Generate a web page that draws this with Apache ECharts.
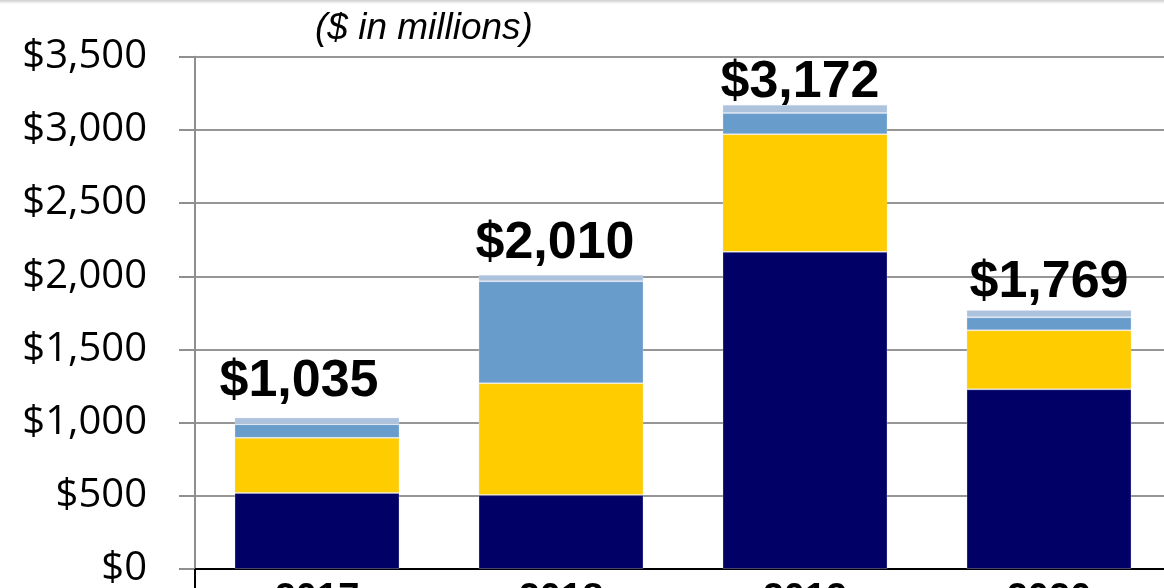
<!DOCTYPE html>
<html>
<head>
<meta charset="utf-8">
<script src="https://cdn.jsdelivr.net/npm/echarts@6/dist/echarts.min.js"></script>
<style>
html,body{margin:0;padding:0;background:#fff;}
#chart{width:1164px;height:588px;}
</style>
</head>
<body>
<div id="chart"></div>
<script>
// ---- data ----
const years = ['2017', '2018', '2019', '2020'];
const seriesNavy = [520, 505, 2167, 1228];
const seriesYellow = [376, 764, 804, 403];
const seriesMidBlue = [93, 697, 144, 89];
const seriesLightBlue = [46, 44, 57, 49];
const totals = [1035, 2010, 3172, 1769];
const yTicks = [0, 500, 1000, 1500, 2000, 2500, 3000, 3500];
const unitNote = '($ in millions)';

// ---- style helpers (not data) ----
const labelOffsets = [[-18, -10], [-6, -5], [-5, 4], [0, -1]];

function fmt(v) { return '$' + v.toLocaleString('en-US'); }

const chart = echarts.init(document.getElementById('chart'), null, {renderer: 'canvas'});
const border = {borderColor: 'rgba(230,230,245,0.3)', borderWidth: 1};

function mkSeries(name, data, color) {
  return {
    name: name, type: 'bar', stack: 'total', barWidth: 165,
    itemStyle: Object.assign({color: color}, border),
    data: data, animation: false
  };
}

const topSeries = mkSeries('Other', seriesLightBlue.map((v, i) => ({
  value: v,
  label: {offset: labelOffsets[i]}
})), '#ADC3DD');
topSeries.label = {
  show: true, position: 'top', distance: 0,
  formatter: p => fmt(totals[p.dataIndex]),
  fontFamily: 'Liberation Sans, Arial, sans-serif',
  fontWeight: 'bold', fontSize: 52, color: '#000'
};

chart.setOption({
  animation: false,
  backgroundColor: '#fff',
  graphic: [
    {type: 'rect', left: 0, top: 0, shape: {width: 1164, height: 4},
     style: {fill: new echarts.graphic.LinearGradient(0, 0, 0, 1, [
       {offset: 0, color: '#cfcfcf'}, {offset: 1, color: '#ffffff'}])}, z: 10},
    {type: 'text', left: 315, top: 10,
     style: {text: unitNote, font: 'italic 37px "Liberation Sans", Arial, sans-serif', fill: '#000'}}
  ],
  grid: {left: 195, right: -7, top: 56.7, bottom: 19, containLabel: false, outerBoundsMode: 'none'},
  xAxis: {
    type: 'category', data: years,
    axisLine: {show: true, lineStyle: {color: '#000', width: 2}},
    axisTick: {show: true, length: 20, interval: (idx) => idx === 0, lineStyle: {color: '#000', width: 2}},
    axisLabel: {
      margin: 12, fontFamily: 'Liberation Sans, Arial, sans-serif',
      fontWeight: 'bold', fontSize: 38, color: '#000'
    }
  },
  yAxis: {
    type: 'value', min: 0, max: 3500, interval: 500,
    axisLine: {show: true, lineStyle: {color: '#8f8f8f', width: 2}},
    axisTick: {show: true, length: 16, lineStyle: {color: '#8f8f8f', width: 2}},
    splitLine: {show: true, lineStyle: {color: '#969696', width: 2}},
    axisLabel: {
      margin: 48, fontFamily: 'Open Sans, sans-serif', fontSize: 40, color: '#000',
      formatter: v => yTicks.indexOf(v) >= 0 ? fmt(v) : ''
    }
  },
  series: [
    mkSeries('Segment 1', seriesNavy, '#000066'),
    mkSeries('Segment 2', seriesYellow, '#FFCC00'),
    mkSeries('Segment 3', seriesMidBlue, '#689DCB'),
    topSeries
  ]
});
</script>
</body>
</html>
